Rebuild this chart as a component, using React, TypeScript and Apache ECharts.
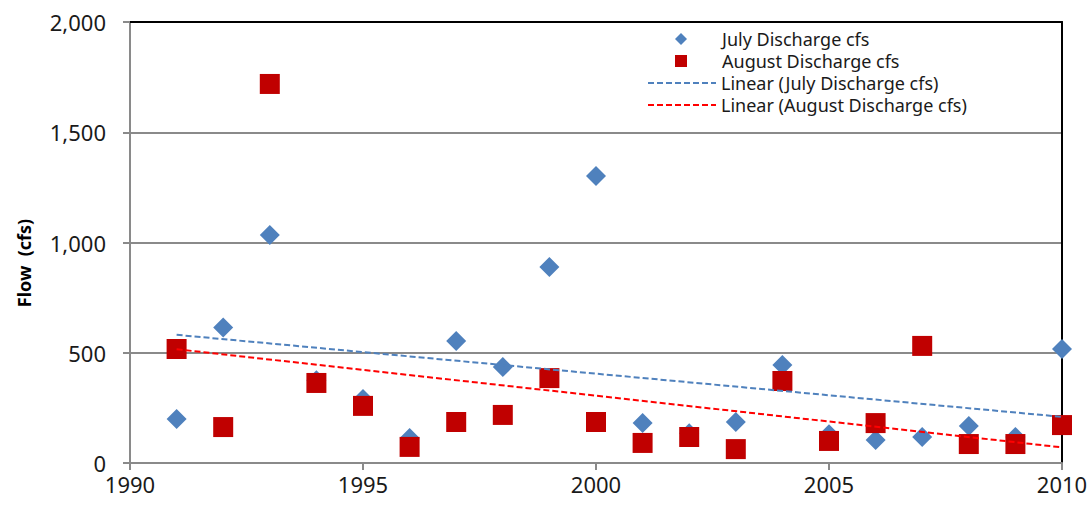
import React, { useEffect, useRef } from "react";
import * as echarts from "echarts";

const years = [1991, 1992, 1993, 1994, 1995, 1996, 1997, 1998, 1999, 2000, 2001, 2002, 2003, 2004, 2005, 2006, 2007, 2008, 2009, 2010];
const july = [200, 615, 1034, 375, 290, 113, 553, 435, 889, 1302, 181, 135, 186, 444, 130, 104, 118, 168, 118, 517];
const august = [517, 163, 1719, 363, 259, 73, 186, 218, 385, 186, 91, 118, 63, 372, 100, 181, 531, 86, 86, 172];
const yTicks = [0, 500, 1000, 1500, 2000];
const xTicks = [1990, 1995, 2000, 2005, 2010];

const JULY_NAME = "July Discharge cfs";
const AUG_NAME = "August Discharge cfs";
const JULY_TREND = "Linear (July Discharge cfs)";
const AUG_TREND = "Linear (August Discharge cfs)";
const Y_TITLE = "Flow  (cfs)";

function trend(xs: number[], ys: number[]): number[][] {
  const n = xs.length;
  const mx = xs.reduce((a, b) => a + b, 0) / n;
  const my = ys.reduce((a, b) => a + b, 0) / n;
  let sxy = 0;
  let sxx = 0;
  for (let i = 0; i < n; i++) {
    sxy += (xs[i] - mx) * (ys[i] - my);
    sxx += (xs[i] - mx) * (xs[i] - mx);
  }
  const b = sxy / sxx;
  const a = my - b * mx;
  const x0 = xs[0];
  const x1 = xs[n - 1];
  return [
    [x0, a + b * x0],
    [x1, a + b * x1],
  ];
}

const FONT = "Noto Sans";

export default function App() {
  const ref = useRef<HTMLDivElement>(null);
  useEffect(() => {
    if (!ref.current) return;
    const chart = echarts.init(ref.current, undefined, { renderer: "svg" });
    const gray = "#8a8a8a";
    const legendText = { fontFamily: FONT, fontSize: 18, color: "#1a1a1a", lineHeight: 22 };
    chart.setOption({
      animation: false,
      backgroundColor: "#ffffff",
      textStyle: { fontFamily: FONT },
      grid: { left: 130, right: 29, top: 22, bottom: 46 },
      legend: [
        {
          orient: "vertical",
          left: 670,
          top: 23,
          itemWidth: 12,
          itemHeight: 12,
          itemGap: 0,
          selectedMode: false,
          textStyle: { ...legendText, padding: [0, 0, 0, 30] },
          data: [{ name: JULY_NAME }, { name: AUG_NAME }],
        },
        {
          orient: "vertical",
          left: 642,
          top: 67,
          itemWidth: 68,
          itemHeight: 14,
          itemGap: 0,
          selectedMode: false,
          textStyle: legendText,
          data: [
            { name: JULY_TREND, itemStyle: { opacity: 0 } },
            { name: AUG_TREND, itemStyle: { opacity: 0 } },
          ],
        },
      ],
      graphic: [
        {
          type: "text",
          x: 24,
          y: 263,
          rotation: Math.PI / 2,
          style: {
            text: Y_TITLE,
            fontFamily: FONT,
            fontSize: 18,
            fontWeight: "bold",
            fill: "#000000",
            align: "center",
            verticalAlign: "middle",
          },
        },
      ],
      xAxis: [
        {
          type: "value",
          min: xTicks[0],
          max: xTicks[xTicks.length - 1],
          interval: 5,
          axisLine: { show: true, lineStyle: { color: gray, width: 2 } },
          axisTick: { show: true, length: 7, lineStyle: { color: gray, width: 2 } },
          axisLabel: { fontFamily: FONT, fontSize: 22, lineHeight: 20, color: "#1a1a1a", margin: 11, formatter: (v: number) => String(v) },
          splitLine: { show: false },
        },
        {
          type: "value",
          position: "top",
          min: xTicks[0],
          max: xTicks[xTicks.length - 1],
          axisLine: { show: true, onZero: false, lineStyle: { color: "#000000", width: 2 } },
          axisTick: { show: false },
          axisLabel: { show: false },
          splitLine: { show: false },
        },
      ],
      yAxis: [
        {
          type: "value",
          min: yTicks[0],
          max: yTicks[yTicks.length - 1],
          interval: 500,
          axisLine: { show: true, lineStyle: { color: gray, width: 2 } },
          axisTick: { show: true, length: 7, lineStyle: { color: gray, width: 2 } },
          axisLabel: { fontFamily: FONT, fontSize: 22, lineHeight: 16, color: "#1a1a1a", margin: 24 },
          splitLine: { show: true, lineStyle: { color: gray, width: 2 } },
        },
        {
          type: "value",
          position: "right",
          min: yTicks[0],
          max: yTicks[yTicks.length - 1],
          axisLine: { show: true, onZero: false, lineStyle: { color: "#000000", width: 2 } },
          axisTick: { show: false },
          axisLabel: { show: false },
          splitLine: { show: false },
        },
      ],
      series: [
        {
          name: JULY_NAME,
          type: "scatter",
          symbol: "diamond",
          symbolSize: 20,
          itemStyle: { color: "#4F81BD", opacity: 1 },
          data: years.map((y, i) => [y, july[i]]),
          z: 2,
        },
        {
          name: AUG_NAME,
          type: "scatter",
          symbol: "rect",
          symbolSize: 20,
          itemStyle: { color: "#C00000", opacity: 1 },
          data: years.map((y, i) => [y, august[i]]),
          z: 3,
        },
        {
          name: JULY_TREND,
          type: "line",
          symbol: "none",
          showSymbol: false,
          lineStyle: { color: "#4F81BD", width: 2, type: [6, 3] },
          itemStyle: { color: "#4F81BD" },
          data: trend(years, july),
          z: 4,
        },
        {
          name: AUG_TREND,
          type: "line",
          symbol: "none",
          showSymbol: false,
          lineStyle: { color: "#FF0000", width: 2, type: [6, 3] },
          itemStyle: { color: "#FF0000" },
          data: trend(years, august),
          z: 4,
        },
      ],
    });
    return () => chart.dispose();
  }, []);
  return <div ref={ref} style={{ position: "absolute", left: 0, top: 0, width: 1091, height: 509 }} />;
}
